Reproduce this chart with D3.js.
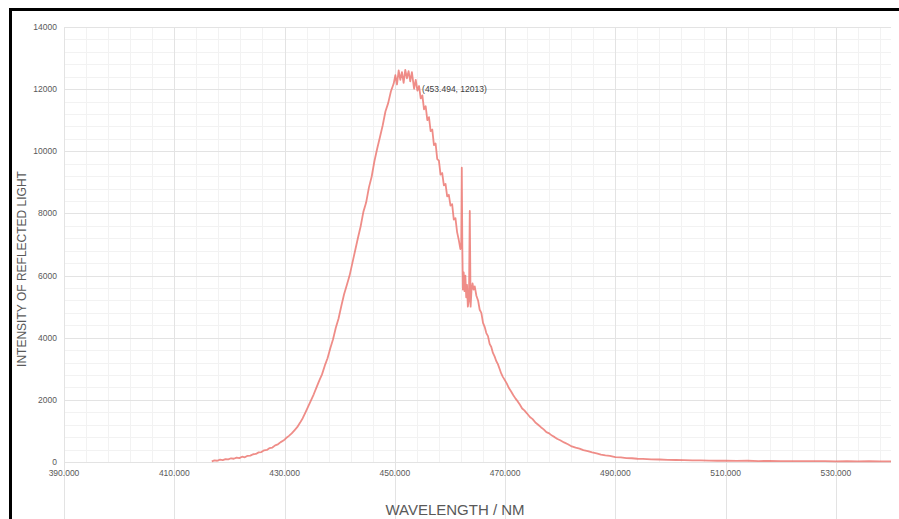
<!DOCTYPE html>
<html>
<head>
<meta charset="utf-8">
<script src="https://cdn.jsdelivr.net/npm/d3@7"></script>
<style>
  body { margin: 0; background: #fff; }
  .tickLabel { font-family: "Liberation Sans", Arial, sans-serif; font-size: 8.5px; fill: #595959; }
  .axisTitle { font-family: "Liberation Sans", Arial, sans-serif; fill: #595959; }
</style>
</head>
<body>
<svg id="chart" width="899" height="519"></svg>
<script>

// tick values
var xTicks = [390, 410, 430, 450, 470, 490, 510, 530];
var yTicks = [0, 2000, 4000, 6000, 8000, 10000, 12000, 14000];

// highlighted point
var peakLabel = [453.494, 12013];

// spectrum: [wavelength nm, intensity]
var spectrum = [
  [416.8, 20], [417.3, 55], [417.8, 40], [418.3, 75], [418.8, 60], [419.3, 95], [419.8, 85],
  [420.3, 120], [420.8, 105], [421.3, 140], [421.8, 125], [422.3, 170], [422.8, 150], [423.3, 200],
  [423.8, 205], [424.3, 250], [424.8, 260], [425.3, 310], [425.8, 320], [426.3, 375], [426.8, 390],
  [427.3, 450], [427.8, 465], [428.3, 535], [428.8, 570], [429.3, 640], [429.8, 690], [430.3, 770],
  [430.8, 840], [431.3, 920], [431.8, 1020], [432.3, 1120], [432.8, 1260], [433.3, 1410], [433.8, 1600],
  [434.3, 1790], [434.8, 1980], [435.3, 2180], [435.8, 2400], [436.3, 2620], [436.8, 2820], [437.3, 3100],
  [437.8, 3340], [438.3, 3660], [438.8, 3950], [439.3, 4320], [439.8, 4620], [440.3, 5020], [440.8, 5400],
  [441.3, 5700], [441.8, 6000], [442.3, 6400], [442.8, 6800], [443.3, 7200], [443.8, 7580], [444.3, 8050],
  [444.8, 8350], [445.3, 8830], [445.8, 9180], [446.3, 9680], [446.8, 10080], [447.3, 10450], [447.8, 10830],
  [448.3, 11280], [448.8, 11550], [449.3, 11930], [449.8, 12180], [450.1, 12450], [450.4, 12150], [450.7, 12600],
  [451.0, 12300], [451.3, 12550], [451.6, 12200], [451.9, 12620], [452.2, 12350], [452.5, 12580], [452.8, 12250],
  [453.1, 12550], [453.494, 12013], [453.8, 12300], [454.1, 11950], [454.4, 12100], [454.7, 11700], [455.0, 11800],
  [455.3, 11350], [455.6, 11450], [455.9, 11000], [456.2, 11100], [456.5, 10650], [456.8, 10700], [457.1, 10200],
  [457.4, 10250], [457.7, 9750], [458.0, 9700], [458.3, 9250], [458.6, 9300], [458.9, 8900], [459.2, 8950],
  [459.5, 8550], [459.8, 8600], [460.1, 8250], [460.4, 8300], [460.7, 7800], [461.0, 7850], [461.3, 7400],
  [461.6, 7150], [461.9, 6850], [462.05, 7000], [462.15, 9470], [462.25, 6900], [462.35, 5550], [462.5, 6100],
  [462.65, 5500], [462.8, 6000], [462.95, 5300], [463.1, 5700], [463.25, 5000], [463.45, 5200], [463.6, 8080],
  [463.75, 5000], [463.9, 5500], [464.1, 5750], [464.3, 5550], [464.5, 5650], [464.8, 5350], [465.1, 5200],
  [465.4, 4900], [465.7, 4800], [466.0, 4480], [466.3, 4350], [466.6, 4150], [466.9, 4050], [467.2, 3800],
  [467.5, 3700], [467.8, 3510], [468.1, 3400], [468.4, 3250], [468.7, 3150], [469.0, 3000], [469.3, 2850],
  [469.6, 2740], [469.9, 2650], [470.3, 2530], [470.7, 2380], [471.1, 2270], [471.5, 2150], [471.9, 2040],
  [472.3, 1950], [472.7, 1840], [473.1, 1720], [473.5, 1660], [474.0, 1560], [474.5, 1450], [475.0, 1380],
  [475.5, 1270], [476.0, 1200], [476.5, 1120], [477.0, 1050], [477.5, 960], [478.0, 920], [478.5, 850],
  [479.0, 800], [479.5, 740], [480.0, 700], [480.7, 630], [481.4, 570], [482.1, 500], [482.8, 460],
  [483.5, 430], [484.2, 380], [485.0, 350], [485.8, 310], [486.6, 280], [487.4, 240], [488.2, 215],
  [489.0, 200], [490.0, 160], [491.0, 150], [492.0, 125], [493.0, 120], [494.0, 105], [495.0, 100],
  [496.5, 85], [498.0, 80], [499.5, 70], [501.0, 65], [502.5, 60], [504.0, 50], [505.5, 55],
  [507.0, 45], [508.5, 40], [510.0, 45], [512.0, 35], [514.0, 40], [516.0, 30], [518.0, 35],
  [520.0, 30], [522.0, 25], [524.0, 30], [526.0, 25], [528.0, 30], [530.0, 20], [532.0, 25],
  [534.0, 20], [536.0, 25], [538.0, 20], [540.0, 20]
];

/************************************************************************************************************/

var svg = d3.select("#chart");

var x = d3.scaleLinear().domain([390, 540]).range([64, 891]);
var y = d3.scaleLinear().domain([0, 14000]).range([462, 27]);

// background grid, minor first then major
var grid = svg.append("g");

grid.selectAll(".minorX").data(d3.range(390, 541, 4)).enter().append("line")
  .attr("x1", function(d){ return Math.round(x(d)) + 0.5; })
  .attr("x2", function(d){ return Math.round(x(d)) + 0.5; })
  .attr("y1", y(14000)).attr("y2", y(0))
  .attr("stroke", "#f2f2f2");

grid.selectAll(".minorY").data(d3.range(0, 14001, 400)).enter().append("line")
  .attr("y1", function(d){ return Math.round(y(d)) + 0.5; })
  .attr("y2", function(d){ return Math.round(y(d)) + 0.5; })
  .attr("x1", x(390)).attr("x2", x(540))
  .attr("stroke", "#f2f2f2");

grid.selectAll(".majorX").data(xTicks).enter().append("line")
  .attr("x1", function(d){ return Math.round(x(d)) + 0.5; })
  .attr("x2", function(d){ return Math.round(x(d)) + 0.5; })
  .attr("y1", y(14000)).attr("y2", 519)
  .attr("stroke", "#e3e3e3");

grid.selectAll(".majorY").data(yTicks).enter().append("line")
  .attr("y1", function(d){ return Math.round(y(d)) + 0.5; })
  .attr("y2", function(d){ return Math.round(y(d)) + 0.5; })
  .attr("x1", x(390)).attr("x2", x(540))
  .attr("stroke", "#e3e3e3");

// tick labels
svg.append("g").selectAll("text").data(yTicks).enter().append("text")
  .attr("class", "tickLabel")
  .attr("x", 57)
  .attr("y", function(d){ return y(d); })
  .attr("dy", "0.35em")
  .attr("text-anchor", "end")
  .text(function(d){ return d; });

svg.append("g").selectAll("text").data(xTicks).enter().append("text")
  .attr("class", "tickLabel")
  .attr("x", function(d){ return x(d); })
  .attr("y", 476)
  .attr("text-anchor", "middle")
  .text(function(d){ return d3.format(".3f")(d); });

// spectrum line
var line = d3.line()
  .x(function(d){ return x(d[0]); })
  .y(function(d){ return y(d[1]); });

svg.append("path")
  .datum(spectrum)
  .attr("d", line)
  .attr("fill", "none")
  .attr("stroke", "#eb706a")
  .attr("stroke-opacity", 0.8)
  .attr("stroke-width", 1.8)
  .attr("stroke-linejoin", "round");

// data label
svg.append("text")
  .attr("class", "tickLabel")
  .attr("x", x(peakLabel[0]) + 8)
  .attr("y", y(peakLabel[1]))
  .attr("dy", "0.35em")
  .style("fill", "#404040")
  .text("(" + peakLabel[0] + ", " + peakLabel[1] + ")");

// axis titles
svg.append("text")
  .attr("class", "axisTitle")
  .attr("transform", "translate(26,269) rotate(-90)")
  .attr("text-anchor", "middle")
  .style("font-size", "12px")
  .text("INTENSITY OF REFLECTED LIGHT");

svg.append("text")
  .attr("class", "axisTitle")
  .attr("x", 455)
  .attr("y", 515)
  .attr("text-anchor", "middle")
  .style("font-size", "15px")
  .text("WAVELENGTH / NM");

// frame of the screenshot
svg.append("path")
  .attr("d", "M10.5,519V9.5H899")
  .attr("fill", "none")
  .attr("stroke", "#000")
  .attr("stroke-width", 3);

</script>
</body>
</html>
